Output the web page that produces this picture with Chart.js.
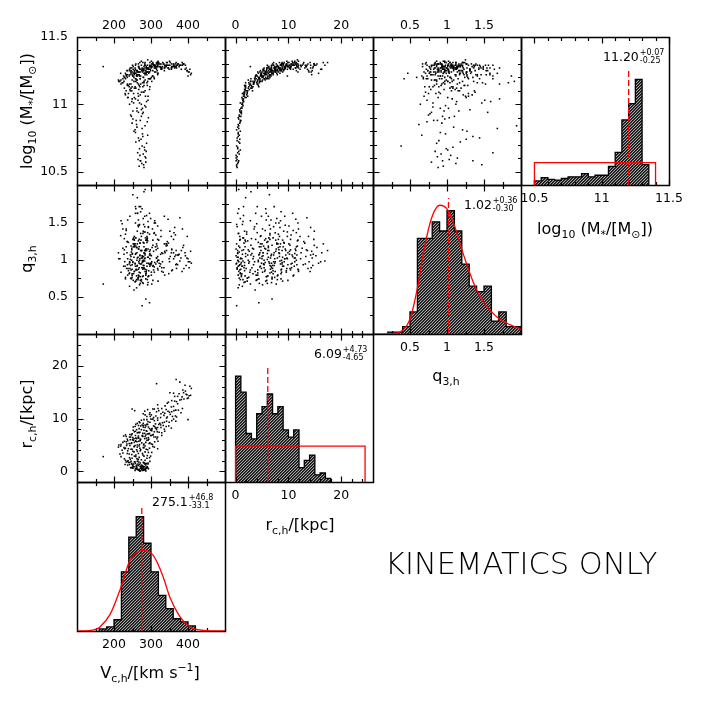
<!DOCTYPE html>
<html>
<head>
<meta charset="utf-8">
<script src="https://cdn.jsdelivr.net/npm/chart.js@4.4.1/dist/chart.umd.min.js"></script>
<style>
  body { margin: 0; background: #fff; }
  #wrap { position: relative; width: 706px; height: 706px; font-family: 'DejaVu Sans', sans-serif; color: #000; }
  canvas { position: absolute; left: 0; top: 0; }
  .t { position: absolute; transform: translate(-50%, -50%); font-size: 16px; white-space: nowrap; line-height: 1; }
  .rot { transform: translate(-50%, -50%) rotate(-90deg); }
  .ann { position: absolute; transform: translateY(-50%); font-size: 12.5px; white-space: nowrap; line-height: 1; }
  .pm { display: inline-block; vertical-align: middle; font-size: 8px; line-height: 8px; margin-left: 1px; }
  .pm span { display: block; }
  sub { font-size: 0.68em; vertical-align: -0.35em; line-height: 0; }
  sup { font-size: 0.68em; vertical-align: 0.6em; line-height: 0; }
  .big { position: absolute; left: 385px; top: 563px; transform: translateY(-50%); font-size: 30.5px; font-weight: 200; white-space: nowrap; }
</style>
</head>
<body>
<div id="wrap">
  <div class="t rot" style="left:27px;top:111px">log<sub>10</sub> (M<sub>*</sub>/[M<sub>⊙</sub>])</div>
  <div class="t rot" style="left:27px;top:259px">q<sub>3,h</sub></div>
  <div class="t rot" style="left:27px;top:414px">r<sub>c,h</sub>/[kpc]</div>
  <div class="t" style="left:595px;top:229px">log<sub>10</sub> (M<sub>*</sub>/[M<sub>⊙</sub>])</div>
  <div class="t" style="left:446px;top:376px">q<sub>3,h</sub></div>
  <div class="t" style="left:300px;top:525px">r<sub>c,h</sub>/[kpc]</div>
  <div class="t" style="left:150px;top:673px">V<sub>c,h</sub>/[km s<sup>−1</sup>]</div>
  <div class="big">KINEMATICS ONLY</div>
</div>
<script>
// posterior samples (one entry per sample, same order in every array)
const vRot = [
  268,275,281,272,286,270,279,264,283,276, 259,288,266,277,254,291,262,249,284,271,
  257,293,245,279,268,286,251,274,261,282, 262,248,277,255,283,239,269,292,246,274,
  258,286,233,265,279,251,297,242,271,260, 288,237,267,253,281,244,268,231,289,255,
  274,219,262,296,238,281,249,171,266,236, 259,284,224,271,248,302,263,241,290,254,
  277,212,246,268,231,291,257,279,239,305, 222,263,249,284,272,234,296,255,318,227,
  241,267,219,286,252,301,233,275,258,213, 292,246,269,310,228,281,255,237,297,263,
  319,254,278,236,299,265,247,288,226,313, 271,258,283,242,305,267,233,294,276,251,
  329,261,286,244,318,263,287,249,309,274, 296,258,322,281,243,302,268,315,290,255,
  337,278,299,266,284,307,268,326,293,259, 314,279,341,301,272,318,289,252,333,296,
  276,310,355,286,321,297,318,279,342,305, 268,331,289,356,312,274,336,300,263,367,
  307,335,289,352,318,279,344,301,366,326, 296,358,315,341,297,362,329,283,350,309,
  374,337,291,356,321,385,249,338,372,355, 318,364,389,347,378,401,356,372,395,361,
  407,384,351,397,386,409,392,315,378,368,400,
  265,287,273,258,280,290,247,269,276,284, 262,253,278,271,
  249,281,236,266,292,243,274,257,285,230,263,277,
  228,259,284,242,299,265, 216,251,278,293,237,266,
  229,254,287,243,270,309,218,261,281, 235,262,289,248,304,271,224,295,259,280,
  245,272,301,259,284,231,316,266,293,250,277,308, 270,294,252,317,283,261,329,289,306,
  279,303,266,327,291,348,312,284,257,336, 292,324,281,349,309,270,361,
  313,342,284,369,327,298, 332,367,305,346,381,319,256,
  361,344, 382,369,398, 376,403,388,364, 393, 405
];
const rCore = [
  0.2,0.4,0.3,0.6,0.5,0.1,0.7,0.4,0.9,0.2, 0.6,0.8,0.3,0.5,0.9,0.7,0.4,0.8,0.6,0.9,
  0.2,0.5,0.7,0.9,0.3,0.1,0.6,0.8,0.5,0.4, 1.2,1.5,1.1,1.8,1.4,1.7,1.3,1.6,1.9,1.0,
  1.5,1.2,1.8,1.4,1.7,1.1,1.9,1.3,1.6,1.0, 1.5,1.2,1.8,1.4,1.7,2.3,2.7,2.1,2.5,2.9,
  2.2,2.8,2.4,2.6,2.0,2.9,2.5,2.8,2.3,3.4, 3.1,3.7,3.5,3.9,3.2,3.6,3.8,3.3,3.0,3.7,
  3.4,4.6,4.2,4.8,4.4,4.1,4.9,4.5,4.3,4.7, 4.0,4.6,4.2,4.8,4.1,4.9,4.4,4.7,4.3,4.5,
  5.3,5.7,5.1,5.5,5.9,5.2,5.6,5.4,5.8,5.0, 5.9,5.3,5.1,5.6,5.7,5.2,5.5,5.8,5.4,5.0,
  5.7,6.2,6.6,6.1,6.8,6.4,6.9,6.3,6.7,6.5, 6.0,6.8,6.2,6.5,6.9,6.3,6.6,6.1,6.7,6.4,
  6.8,6.2,6.9,6.0,6.5,7.3,7.7,7.1,7.5,7.9, 7.2,7.6,7.4,7.8,7.0,7.7,7.3,7.9,7.1,7.5,
  7.6,7.2,7.8,7.4,8.3,8.6,8.1,8.8,8.4,8.9, 8.2,8.7,8.5,8.0,8.6,8.3,8.9,8.4,8.7,8.1,
  8.8,8.5,8.2,8.6,8.9,9.3,9.7,9.1,9.5,9.9, 9.4,9.2,9.8,9.6,9.0,9.7,9.3,9.9,9.1,9.5,
  10.2,10.6,10.4,10.8,10.1,10.9,10.3,10.7,10.5,10.2, 10.8,10.4,11.3,11.7,11.1,11.5,11.9,11.4,11.2,11.8,
  11.6,11.0,11.7,11.3,11.5,11.9,11.8,12.4,12.8,12.2, 12.6,13.3,13.7,13.1,13.5,13.9,13.4,14.2,14.6,14.8,
  14.4,14.1,14.9,14.5,15.4,15.7,16.3,16.6,16.9,17.4,9.8,
  0.3,0.6,0.8,0.5,0.2,0.9,0.7,0.4,0.6,0.3, 0.8,0.9,0.5,0.1,
  1.3,1.6,1.9,1.1,1.4,1.7,1.2,1.8,1.5,1.3,1.9,1.0,
  2.4,2.8,2.1,2.6,2.9,2.2, 3.3,3.8,3.1,3.6,3.9,3.4,
  4.3,4.7,4.2,4.9,4.4,4.6,4.8,4.1,4.5, 5.2,5.6,5.9,5.4,5.1,5.8,5.5,5.3,5.7,5.0,
  6.5,6.1,6.8,6.3,6.6,6.9,6.2,6.7,6.4,6.0,6.8,6.5, 7.4,7.1,7.8,7.5,7.2,7.9,7.3,7.6,7.0,
  8.4,8.1,8.7,8.3,8.9,8.6,8.2,8.8,8.5,8.0, 9.4,9.1,9.8,9.3,9.6,9.2,9.9,
  10.5,10.1,10.7,10.3,10.9,10.4, 11.2,11.6,11.8,11.4,11.1,11.9,11.5,
  12.3,12.9, 13.6,13.2,13.8, 14.7,14.3,14.9,14.2, 15.2, 16.1
];
const qFlat = [
  0.95,1.12,0.88,1.35,0.79,1.05,0.92,1.62,1.01,0.38, 1.18,0.86,1.44,0.98,1.27,0.66,1.09,0.93,1.94,0.82,
  1.21,1.03,0.75,1.55,0.89,1.14,0.97,1.31,0.62,1.08, 0.91,1.13,0.77,1.26,0.98,0.85,1.47,0.69,1.04,0.94,
  1.71,0.81,1.17,0.73,1.38,0.96,1.08,0.64,1.22,0.87, 1.59,1.01,0.78,1.29,0.92,1.06,0.83,1.34,0.95,1.19,
  0.71,1.52,0.99,1.11,0.88,1.91,0.76,0.67,1.25,0.93, 1.08,0.84,1.41,0.72,1.15,0.97,1.62,0.81,1.28,0.59,
  1.04,1.09,0.86,1.17,0.74,1.36,0.95,0.68,1.23,0.91, 1.48,1.02,0.79,1.12,1.71,0.88,0.42,1.31,0.99,1.07,
  0.94,1.14,0.83,1.26,0.72,1.05,1.39,0.89,1.62,1.01, 0.77,1.18,0.66,0.96,1.28,1.09,0.84,1.53,0.93,1.21,
  0.71,1.03,0.87,1.24,0.95,1.46,0.74,1.12,0.91,1.33, 0.68,1.07,1.58,0.82,1.19,0.97,1.41,0.78,1.05,1.87,
  0.89,1.16,0.47,1.00,1.27,0.92,1.14,0.81,1.36,0.73, 1.06,1.49,0.95,1.22,0.88,0.67,1.71,1.02,1.29,0.84,
  1.11,0.97,1.55,0.76,1.08,0.86,1.27,0.94,1.43,0.71, 1.13,0.99,1.21,0.79,1.64,1.04,0.91,1.17,0.83,1.34,
  0.96,1.52,1.09,0.74,1.26,1.01,0.88,1.23,1.12,0.72, 1.46,0.97,1.31,0.85,1.17,1.02,1.58,0.93,1.38,1.06,
  1.11,0.89,1.27,1.04,1.45,0.78,1.19,0.95,1.33,1.07, 1.62,0.86,1.02,1.18,0.91,1.36,0.84,1.12,0.97,1.49,
  1.06,0.79,1.25,1.14,0.99,1.41,0.87,1.09,0.93,1.31, 1.15,1.04,0.88,1.22,1.56,0.97,1.13,1.06,0.92,1.27,
  1.11,0.84,1.38,1.02,1.16,0.95,1.09,1.21,0.98,1.12,1.01,
  1.03,0.84,1.26,0.91,1.47,0.73,1.10,0.99,1.68,0.87, 1.16,0.81,1.35,0.94,
  1.07,0.89,1.24,0.79,1.51,0.96,1.12,0.70,1.29,0.91,1.83,1.02,
  1.13,0.86,1.37,0.97,1.06,0.75, 1.01,1.27,0.89,1.44,0.79,1.14,
  0.97,1.21,0.82,1.58,1.06,0.90,1.32,0.73,1.17, 1.09,0.86,1.23,0.99,1.41,0.77,1.15,0.94,1.68,1.04,
  0.92,1.12,0.83,1.29,1.02,0.76,1.18,1.53,0.95,1.08,0.69,1.35, 1.01,0.85,1.21,0.97,1.44,0.78,1.09,1.26,0.92,
  0.98,1.16,0.87,1.31,1.03,0.81,1.49,1.12,0.94,1.21, 1.14,0.91,1.37,1.01,0.83,1.22,1.09,
  0.94,1.21,1.06,0.88,1.39,1.13, 1.08,0.93,1.26,1.54,1.02,0.86,1.17,
  1.01,1.24, 1.12,0.94,1.31, 1.07,0.89,1.19,1.43, 1.05, 0.97
];
const logMass = [
  10.54,10.56,10.53,10.58,10.57,10.62,10.63,10.64,10.66,10.69, 10.72,10.71,10.75,10.78,10.80,10.77,10.83,10.86,10.84,10.88,
  10.81,10.90,10.92,10.94,10.73,10.60,10.89,10.96,10.85,10.68, 10.97,11.02,10.93,11.05,10.99,11.08,11.01,11.06,11.12,10.91,
  11.04,10.98,11.10,11.03,11.09,10.95,11.13,11.00,11.07,10.88, 11.02,11.05,11.11,11.08,11.14,11.10,11.14,11.07,11.16,11.12,
  11.09,11.15,11.18,11.11,11.05,11.17,11.13,11.28,11.06,11.15, 11.12,11.18,11.16,11.19,11.10,11.17,11.21,11.13,11.14,11.20,
  11.16,11.18,11.15,11.22,11.19,11.17,11.23,11.20,11.14,11.21, 11.16,11.24,11.18,11.22,11.15,11.21,11.19,11.25,11.23,11.17,
  11.21,11.24,11.18,11.23,11.26,11.20,11.22,11.25,11.19,11.17, 11.27,11.23,11.21,11.24,11.20,11.26,11.22,11.25,11.19,11.24,
  11.23,11.23,11.26,11.20,11.28,11.22,11.25,11.27,11.21,11.24, 11.19,11.29,11.23,11.26,11.25,11.28,11.22,11.24,11.27,11.21,
  11.26,11.25,11.23,11.27,11.22,11.25,11.28,11.22,11.27,11.29, 11.24,11.26,11.28,11.23,11.25,11.30,11.27,11.26,11.29,11.24,
  11.27,11.31,11.25,11.28,11.27,11.29,11.24,11.28,11.26,11.30, 11.27,11.25,11.29,11.28,11.26,11.31,11.27,11.23,11.30,11.28,
  11.26,11.29,11.27,11.25,11.30,11.28,11.30,11.26,11.29,11.31, 11.27,11.28,11.26,11.30,11.29,11.32,11.27,11.29,11.25,11.28,
  11.29,11.30,11.27,11.31,11.28,11.26,11.29,11.32,11.30,11.27, 11.29,11.28,11.30,11.28,11.31,11.29,11.27,11.30,11.32,11.28,
  11.30,11.29,11.33,11.27,11.31,11.29,11.24,11.28,11.30,11.26, 11.29,11.28,11.30,11.27,11.29,11.24,11.28,11.29,11.27,11.30,
  11.22,11.31,11.29,11.25,11.30,11.23,11.26,11.31,11.29,11.31,11.21,
  10.59,10.65,10.74,10.79,10.55,10.87,10.91,10.67,10.82,10.61, 10.95,11.01,10.76,10.58,
  11.04,11.09,11.14,10.94,11.03,11.11,11.00,11.13,11.06,11.08,11.16,10.97,
  11.12,11.17,11.10,11.15,11.19,11.08, 11.17,11.21,11.13,11.19,11.22,11.15,
  11.20,11.17,11.24,11.22,11.13,11.19,11.23,11.21,11.16, 11.25,11.18,11.22,11.27,11.21,11.24,11.19,11.26,11.23,11.20,
  11.24,11.21,11.27,11.19,11.25,11.23,11.28,11.22,11.26,11.29,11.24,11.20, 11.26,11.23,11.28,11.25,11.29,11.22,11.27,11.24,11.30,
  11.25,11.28,11.30,11.26,11.24,11.29,11.27,11.31,11.27,11.25, 11.27,11.30,11.28,11.26,11.29,11.31,11.28,
  11.28,11.31,11.29,11.27,11.30,11.26, 11.31,11.28,11.30,11.27,11.29,11.32,11.25,
  11.29,11.31, 11.26,11.29,11.25, 11.28,11.24,11.30,11.27, 11.29, 11.26
];

// histograms (bin start, bin width, counts)
const mBins = [10.5, 0.05];
const mCounts = [5, 9, 7, 6, 8, 10, 10, 14, 10, 12, 12, 23, 40, 80, 100, 130, 25];
const qBins = [0.2, 0.1];
const qCounts = [1, 1, 4, 12, 52, 52, 61, 56, 67, 56, 38, 26, 23, 26, 7, 12, 4, 4];
const rBins = [0, 1];
const rCounts = [59, 50, 27, 24, 38, 42, 49, 38, 42, 29, 25, 29, 8, 12, 15, 4, 5, 2];
const vBins = [160, 20];
const vCounts = [2, 4, 11, 58, 92, 112, 86, 58, 35, 22, 12, 9, 5];

// fitted curves
const qCurveX = [0, 0.3, 0.4, 0.5, 0.6, 0.7, 0.8, 0.9, 1.0, 1.1, 1.2, 1.3, 1.4, 1.5, 1.6, 1.7, 1.8, 1.9, 2.0];
const qCurveY = [0, 0.3, 2, 8, 25, 48, 64, 70, 68, 59, 46, 34, 24, 17, 12, 8.5, 6, 4.2, 2.5];
const vCurveX = [100, 130, 150, 162, 189, 216, 243, 279, 306, 333, 351, 378, 405, 432, 460, 500];
const vCurveY = [0, 0.3, 1.5, 4, 16, 40, 69, 79, 74, 53, 33, 14, 4, 1, 0.2, 0];

// medians, errors and prior boxes
const medians = [11.20, 1.02, 6.09, 275.1];
const medTops = [142, 74, 65, 123];
const medLabels = ['11.20', '1.02', '6.09', '275.1'];
const errUp = ['+0.07', '+0.36', '+4.73', '+46.8'];
const errLo = ['-0.25', '-0.30', '-4.65', '-33.1'];
const mPrior = [10.5, 11.4, 27.5];
const rPrior = [0, 24.5, 20];
const histMax = [182, 81, 82.4, 146];

// axes: range and ticks
const vAxis = { min: 100, max: 500, major: [200, 300, 400], minor: [150, 250, 350, 450] };
const rAxis = { min: -2, max: 26, major: [0, 10, 20], minor: [2, 4, 6, 8, 12, 14, 16, 18, 22, 24] };
const qAxis = { min: 0, max: 2, major: [0.5, 1, 1.5], minor: [0.25, 0.75, 1.25, 1.75] };
const mAxis = { min: 10.4, max: 11.5, major: [10.5, 11, 11.5], minor: [10.6, 10.7, 10.8, 10.9, 11.1, 11.2, 11.3, 11.4] };

const COLS = [77, 225, 373, 521, 669];
const ROWS = [37, 185, 334, 482, 631];
const RED = '#ff0000';
const wrap = document.getElementById('wrap');

Chart.defaults.font.family = "'DejaVu Sans', sans-serif";
Chart.defaults.font.size = 12.5;
Chart.defaults.color = '#000';

function hatch() {
  const c = document.createElement('canvas');
  c.width = 3; c.height = 3;
  const g = c.getContext('2d');
  g.fillStyle = '#a8a8a8'; g.fillRect(0, 0, 3, 3);
  for (let i = 0; i < 3; i++) {
    g.fillStyle = '#111'; g.fillRect(i, 2 - i, 1, 1);
    g.fillStyle = '#3a3a3a'; g.fillRect(i, (3 - i) % 3, 1, 1);
  }
  return g.createPattern(c, 'repeat');
}
const HATCH = hatch();

// frame and inward ticks on the panel borders
const frameTicks = {
  id: 'frameTicks',
  afterDatasetDraw(chart, args, o) {
    if (args.index !== chart.data.datasets.length - 1) return;
    const { ctx, chartArea: a, scales } = chart;
    const L = Math.round(a.left) + 0.5, R = Math.round(a.right) + 0.5;
    const T = Math.round(a.top) + 0.5, B = Math.round(a.bottom) + 0.5;
    ctx.save();
    ctx.strokeStyle = '#000';
    ctx.lineWidth = 1.2;
    ctx.beginPath();
    const xt = (vals, len) => vals.forEach(v => {
      const p = Math.round(scales.x.getPixelForValue(v)) + 0.5;
      ctx.moveTo(p, B); ctx.lineTo(p, B - len);
      ctx.moveTo(p, T); ctx.lineTo(p, T + len);
    });
    const yt = (vals, len) => vals.forEach(v => {
      const p = Math.round(scales.y.getPixelForValue(v)) + 0.5;
      ctx.moveTo(L, p); ctx.lineTo(L + len, p);
      ctx.moveTo(R, p); ctx.lineTo(R - len, p);
    });
    xt(o.x.major, 6); xt(o.x.minor, 3.5);
    if (o.y) { yt(o.y.major, 6); yt(o.y.minor, 3.5); }
    ctx.stroke();
    ctx.lineWidth = 1.5;
    ctx.strokeRect(L, T, R - L, B - T);
    ctx.restore();
  }
};

function axis(ax, show, position, pad) {
  return {
    type: 'linear', min: ax.min, max: ax.max, position, display: show,
    grid: { display: false, drawTicks: false, tickLength: 0 },
    border: { display: false },
    ticks: { autoSkip: false, maxRotation: 0, padding: pad, callback: v => String(v) },
    afterBuildTicks: s => { s.ticks = ax.major.map(v => ({ value: v })); },
    afterFit: s => {
      const size = show ? (s.isHorizontal() ? 20 : 40) : 0;
      if (s.isHorizontal()) s.height = size; else s.width = size;
    }
  };
}

function panel(col, row, spec) {
  const cv = document.createElement('canvas');
  cv.width = 706; cv.height = 706;
  wrap.insertBefore(cv, wrap.firstChild);
  const x0 = COLS[col], x1 = COLS[col + 1], y0 = ROWS[row], y1 = ROWS[row + 1];
  new Chart(cv, {
    type: spec.type,
    data: { datasets: spec.datasets },
    options: {
      responsive: false, animation: false, events: [],
      layout: { padding: {
        left: x0 - (spec.yLab ? 40 : 0),
        right: 706 - x1,
        top: y0 - (spec.xLab === 'top' ? 20 : 0),
        bottom: 706 - y1 - (spec.xLab === 'bottom' ? 20 : 0)
      } },
      scales: {
        x: axis(spec.xAxis, !!spec.xLab, spec.xLab === 'top' ? 'top' : 'bottom', spec.xLab === 'top' ? 4 : 6),
        y: spec.yAxis ? axis(spec.yAxis, !!spec.yLab, 'left', 9)
                      : { type: 'linear', display: false, min: 0, max: spec.yMax }
      },
      plugins: { legend: { display: false }, tooltip: { enabled: false },
                 frameTicks: { x: spec.xAxis, y: spec.yAxis } }
    },
    plugins: [frameTicks]
  });
}

function scatter(xs, ys) {
  return [{
    data: xs.map((v, i) => ({ x: v, y: ys[i] })),
    pointStyle: 'rect', pointRadius: 1.1, backgroundColor: '#000', borderWidth: 0
  }];
}

function steps(bins, counts) {
  const pts = [{ x: bins[0], y: 0 }];
  counts.forEach((c, i) => pts.push({ x: bins[0] + i * bins[1], y: c }));
  pts.push({ x: bins[0] + counts.length * bins[1], y: 0 });
  return pts;
}

function histSets(bins, counts, med, medTop, extra) {
  const sets = [{
    data: [{ x: med, y: 0 }, { x: med, y: medTop }],
    borderColor: RED, borderWidth: 1.3, borderDash: [6, 3], pointRadius: 0, fill: false
  }];
  extra.forEach(e => sets.push(Object.assign({ borderColor: RED, borderWidth: 1.3, pointRadius: 0, fill: false }, e)));
  sets.push({
    data: steps(bins, counts), stepped: true, fill: 'origin', backgroundColor: HATCH,
    borderColor: '#000', borderWidth: 1.3, pointRadius: 0
  });
  return sets;
}

function box(p) {
  return { data: [{ x: p[0], y: 0 }, { x: p[0], y: p[2] }, { x: p[1], y: p[2] }, { x: p[1], y: 0 }] };
}
function curve(xs, ys) {
  return { data: xs.map((v, i) => ({ x: v, y: ys[i] })), cubicInterpolationMode: 'monotone' };
}

// row 1
panel(0, 0, { type: 'scatter', xAxis: vAxis, yAxis: mAxis, xLab: 'top', yLab: true, datasets: scatter(vRot, logMass) });
panel(1, 0, { type: 'scatter', xAxis: rAxis, yAxis: mAxis, xLab: 'top', datasets: scatter(rCore, logMass) });
panel(2, 0, { type: 'scatter', xAxis: qAxis, yAxis: mAxis, xLab: 'top', datasets: scatter(qFlat, logMass) });
panel(3, 0, { type: 'line', xAxis: mAxis, xLab: 'bottom', yMax: histMax[0],
  datasets: histSets(mBins, mCounts, medians[0], medTops[0], [box(mPrior)]) });
// row 2
panel(0, 1, { type: 'scatter', xAxis: vAxis, yAxis: qAxis, yLab: true, datasets: scatter(vRot, qFlat) });
panel(1, 1, { type: 'scatter', xAxis: rAxis, yAxis: qAxis, datasets: scatter(rCore, qFlat) });
panel(2, 1, { type: 'line', xAxis: qAxis, xLab: 'bottom', yMax: histMax[1],
  datasets: histSets(qBins, qCounts, medians[1], medTops[1], [curve(qCurveX, qCurveY)]) });
// row 3
panel(0, 2, { type: 'scatter', xAxis: vAxis, yAxis: rAxis, yLab: true, datasets: scatter(vRot, rCore) });
panel(1, 2, { type: 'line', xAxis: rAxis, xLab: 'bottom', yMax: histMax[2],
  datasets: histSets(rBins, rCounts, medians[2], medTops[2], [box(rPrior)]) });
// row 4
panel(0, 3, { type: 'line', xAxis: vAxis, xLab: 'bottom', yMax: histMax[3],
  datasets: histSets(vBins, vCounts, medians[3], medTops[3], [curve(vCurveX, vCurveY)]) });

// median annotations
const annPos = [[603, 57], [464, 205], [314, 354], [152, 502]];
annPos.forEach((p, i) => {
  const d = document.createElement('div');
  d.className = 'ann';
  d.style.left = p[0] + 'px';
  d.style.top = p[1] + 'px';
  d.innerHTML = medLabels[i] + '<span class="pm"><span>' + errUp[i] + '</span><span>' + errLo[i] + '</span></span>';
  wrap.appendChild(d);
});
</script>
</body>
</html>
